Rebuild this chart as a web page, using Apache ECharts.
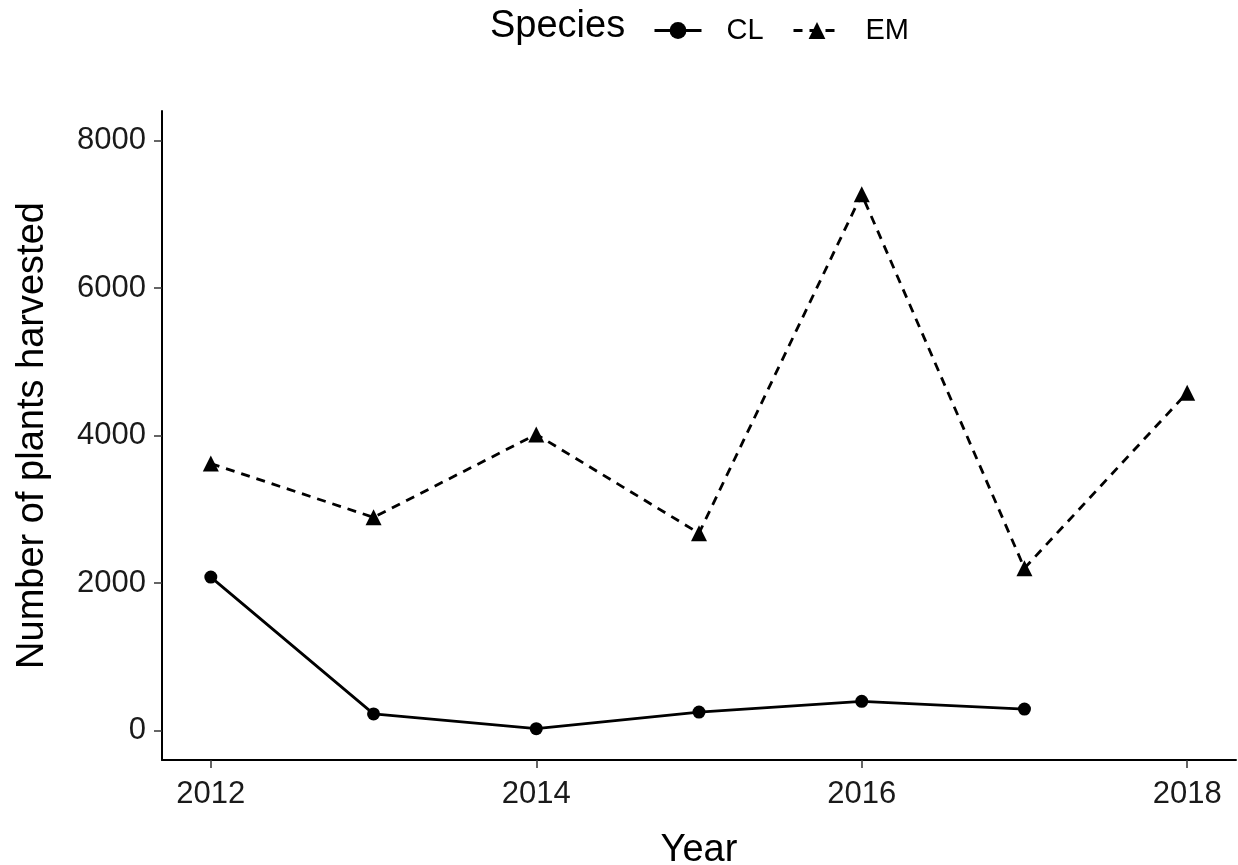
<!DOCTYPE html>
<html><head><meta charset="utf-8">
<script src="https://cdn.jsdelivr.net/npm/echarts@6/dist/echarts.min.js"></script>
<style>html,body{margin:0;padding:0;background:#fff}#c{width:1238px;height:865px}</style>
</head><body><div id="c"></div>
<script>
const years = [2012, 2013, 2014, 2015, 2016, 2017, 2018];
const clValues = [2080, 225, 25, 250, 395, 290];
const emValues = [3620, 2890, 4015, 2675, 7270, 2200, 4580];
const xTicks = [2012, 2014, 2016, 2018];
const yTicks = [0, 2000, 4000, 6000, 8000];
const FONT = 'Liberation Sans';

const chart = echarts.init(document.getElementById('c'), null, {renderer: 'canvas'});
const legendBase = {
  top: 11, itemWidth: 47, itemHeight: 21,
  lineStyle: {width: 3},
  textStyle: {fontFamily: FONT, fontSize: 29, color: '#000', padding: [0, 0, 0, 20]}
};
chart.setOption({
  backgroundColor: '#fff',
  animation: false,
  textStyle: {fontFamily: FONT},
  graphic: [{
    type: 'text', left: 490, top: 8,
    style: {text: 'Species', fontFamily: FONT, fontSize: 38, fill: '#000'}
  }],
  legend: [
    Object.assign({left: 648, data: ['CL']}, legendBase),
    Object.assign({left: 787, data: ['EM']}, legendBase)
  ],
  grid: {left: 162, right: 2, top: 111, bottom: 105, containLabel: false, outerBoundsMode: 'none'},
  xAxis: {
    type: 'value', min: 2011.7, max: 2018.3,
    name: 'Year', nameLocation: 'middle', nameGap: 72,
    nameTextStyle: {fontFamily: FONT, fontSize: 38, color: '#000'},
    axisLine: {show: true, onZero: false, lineStyle: {color: '#000', width: 2}},
    axisTick: {show: true, length: 8, customValues: xTicks, lineStyle: {color: '#333', width: 1.5}},
    axisLabel: {customValues: xTicks, formatter: v => String(v), fontFamily: FONT, fontSize: 31, color: '#1a1a1a', margin: 19},
    splitLine: {show: false}
  },
  yAxis: {
    type: 'value', min: -400, max: 8400,
    name: 'Number of plants harvested', nameLocation: 'middle', nameGap: 110, nameRotate: 90,
    nameTextStyle: {fontFamily: FONT, fontSize: 38, color: '#000'},
    axisLine: {show: true, onZero: false, lineStyle: {color: '#000', width: 2}},
    axisTick: {show: true, length: 8, customValues: yTicks, lineStyle: {color: '#333', width: 1.5}},
    axisLabel: {customValues: yTicks, formatter: v => String(v), fontFamily: FONT, fontSize: 31, color: '#1a1a1a', margin: 16},
    splitLine: {show: false}
  },
  series: [
    {
      name: 'CL', type: 'line',
      data: clValues.map((v, i) => [years[i], v]),
      symbol: 'circle', symbolSize: 13,
      itemStyle: {color: '#000'},
      lineStyle: {color: '#000', width: 2.8, type: 'solid'}
    },
    {
      name: 'EM', type: 'line',
      data: emValues.map((v, i) => [years[i], v]),
      symbol: 'triangle', symbolSize: 16,
      itemStyle: {color: '#000'},
      lineStyle: {color: '#000', width: 2.8, type: [9, 7]}
    }
  ]
});
</script></body></html>
